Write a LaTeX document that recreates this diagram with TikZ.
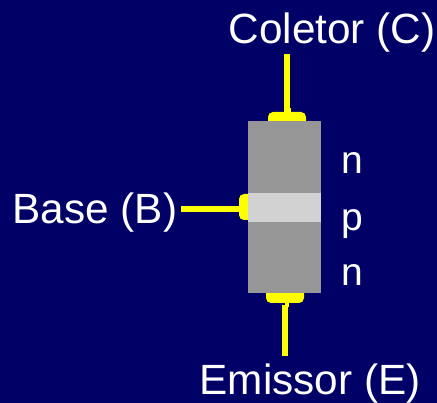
\documentclass[tikz,border=0pt]{standalone}
\usepackage{fontspec}
\setmainfont{Liberation Sans}
\usepackage{xcolor}
\definecolor{bgblue}{RGB}{0,0,102}
\definecolor{dopedgray}{RGB}{150,150,150}
\definecolor{basegray}{RGB}{210,210,210}
\definecolor{leadyellow}{RGB}{255,255,0}
\tikzstyle{label} = [text=white, inner sep=0pt, anchor=base, font=\fontsize{42.3}{42.3}\selectfont]
\tikzstyle{layer} = [text=white, inner sep=0pt, anchor=base, font=\fontsize{39}{39}\selectfont]
\tikzstyle{lead} = [draw=leadyellow, line width=5.5pt]
\tikzstyle{pad} = [fill=leadyellow, rounded corners=5pt]
\begin{document}
\begin{tikzpicture}[x=1pt,y=-1pt]
      \useasboundingbox (0,0) rectangle (437,403);
      \fill[bgblue] (0,0) rectangle (437,403);

      % contact pads, the body covers their inner edge
      \fill[pad] (268,130) rectangle (306,112);
      \fill[pad] (255,194) rectangle (239,220);
      \fill[pad] (266,284) rectangle (304,303);

      % small necks under the leads
      \fill[leadyellow] (289,108) rectangle (291,113);
      \fill[leadyellow] (285,302) rectangle (289.3,307);

      % transistor body
      \node[fill=dopedgray, minimum width=73pt, minimum height=172pt, inner sep=0pt, outer sep=0pt] (body) at (284.5,207) {};
      \node[fill=basegray, minimum width=73pt, minimum height=29pt, inner sep=0pt, outer sep=0pt] (base) at (284.5,207.5) {};

      % free ends of the leads
      \coordinate (ctop) at (287.2,54);
      \coordinate (cpad) at (287.2,113);
      \coordinate (bleft) at (180.5,209);
      \coordinate (bpad) at (240,209);
      \coordinate (eend) at (284.8,356);
      \coordinate (epad) at (284.8,305);

      % yellow leads
      \draw[lead] (ctop) -- (cpad);
      \draw[lead] (bleft) -- (bpad);
      \draw[lead] (eend) -- (epad);

      % labels
      \node[label] (coletor) at (332,43.5) {Coletor (C)};
      \node[label] (baselabel) at (95,224) {Base (B)};
      \node[label] (emissor) at (310,394.5) {Emissor (E)};
      \node[layer] (n1) at (352,174) {n};
      \node[layer] (p) at (352,231) {p};
      \node[layer] (n2) at (352,286) {n};
    \end{tikzpicture}
\end{document}
